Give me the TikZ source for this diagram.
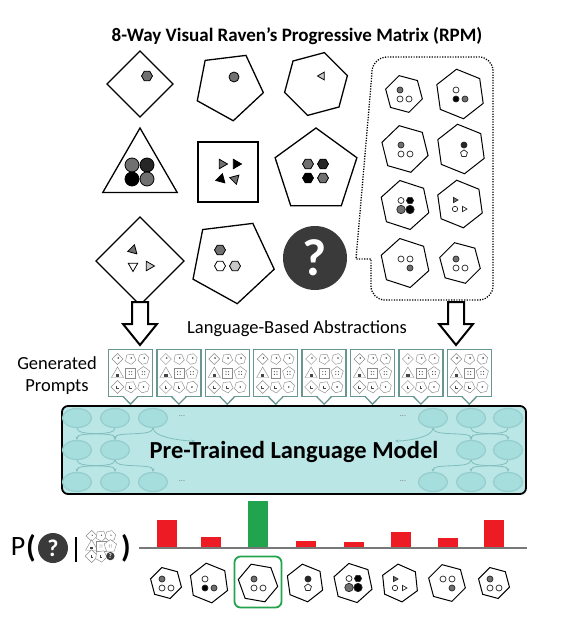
\documentclass[tikz,border=0pt]{standalone}
\usepackage{fontspec}
\setmainfont{Carlito}
\usetikzlibrary{shapes.geometric,arrows.meta,positioning}

\definecolor{panelgrey}{RGB}{112,112,112}
\definecolor{lightpiece}{RGB}{200,200,200}
\definecolor{darkdot}{RGB}{38,38,38}
\definecolor{qdark}{RGB}{58,58,58}
\definecolor{promptc}{RGB}{104,150,145}
\definecolor{lmfill}{RGB}{187,230,230}
\definecolor{neuronfill}{RGB}{166,221,221}
\definecolor{neuronline}{RGB}{150,206,206}
\definecolor{synapsec}{RGB}{128,190,190}
\definecolor{barred}{RGB}{237,28,36}
\definecolor{bargreen}{RGB}{34,163,77}
\definecolor{axisgrey}{RGB}{120,120,120}
\definecolor{minigrey}{RGB}{140,140,140}
\definecolor{minidark}{RGB}{70,70,70}

% contents of the eight answer candidates
\newcommand\candfill[1]{%
  \ifcase#1\or
    \filldraw[dot, fill=panelgrey] (-4,-4) circle[radius=3];
    \filldraw[dot, fill=white] (-4,5) circle[radius=3];
    \filldraw[dot, fill=white] (5,5) circle[radius=3];
  \or
    \filldraw[dot, fill=white] (-4,-4) circle[radius=3];
    \filldraw[dot, fill=black] (-4,5) circle[radius=3];
    \filldraw[dot, fill=panelgrey] (5,5) circle[radius=3];
  \or
    \filldraw[dot, fill=panelgrey] (-4,-4) circle[radius=3];
    \filldraw[dot, fill=white] (-4,5) circle[radius=3];
    \filldraw[dot, fill=white] (5,5) circle[radius=3];
  \or
    \filldraw[dot, fill=darkdot] (3,-4) circle[radius=3];
    \pic[dot, fill=white] at (3,4.5) {ngon={5}{3.6}{0}};
  \or
    \filldraw[dot, fill=white] (-4,-4.5) circle[radius=3];
    \pic[dot, fill=black] at (5,-4.5) {ngon={6}{3.6}{30}};
    \filldraw[dot, fill=panelgrey] (-4,4.5) circle[radius=4.2];
    \filldraw[dot, fill=black] (5,4.5) circle[radius=4.2];
  \or
    \pic[dot, fill=panelgrey] at (-5,-4) {ngon={3}{3}{-90}};
    \filldraw[dot, fill=white] (-5,5) circle[radius=2.7];
    \pic[dot, fill=white] at (4,5) {ngon={3}{3}{-90}};
  \or
    \filldraw[dot, fill=white] (-4,-4) circle[radius=3];
    \filldraw[dot, fill=white] (5,-4) circle[radius=3];
    \filldraw[dot, fill=panelgrey] (5,5) circle[radius=3];
  \or
    \filldraw[dot, fill=panelgrey] (-4,-4) circle[radius=3];
    \filldraw[dot, fill=white] (-4,5) circle[radius=3];
    \filldraw[dot, fill=white] (5,5) circle[radius=3];
  \fi}

% last cell of a small matrix
\newcommand\minilast[1]{%
  \ifnum#1=0
    \fill[qdark] (13,14) circle[radius=5.8];
    \node[text=white, font=\fontsize{7}{7}\selectfont\bfseries] (qmini) at (13,14) {?};
  \else
    \pic[mini] at (13,14) {ngon={6}{6}{-15}};
    \fill[minidark] (13,14) circle[radius=0.9];
  \fi}

\tikzset{
  panel/.style={draw, line width=1.3pt, inner sep=0pt, fill=white},
  piece/.style={draw=black, line width=0.8pt},
  dot/.style={draw=darkdot, line width=0.7pt},
  mini/.style={draw=minigrey, line width=0.45pt, fill=white},
  prompt/.style={draw=promptc, line width=1.3pt, fill=white, minimum width=44pt, minimum height=47pt},
  lmbox/.style={draw, line width=1.8pt, rounded corners=6pt, fill=lmfill, minimum width=464pt, minimum height=88pt},
  neuron/.style={ellipse, draw=neuronline, line width=1.3pt, fill=neuronfill, minimum width=29pt, minimum height=19pt},
  synapse/.style={draw=synapsec, line width=0.8pt, -{Stealth[length=3.5pt, width=3pt]}},
  bar/.style={minimum width=20pt},
  axisline/.style={draw=axisgrey, line width=2pt},
  qmark/.style={circle, fill=qdark, text=white},
  callout/.style={draw, line width=1.3pt, dash pattern=on 1.2pt off 1.4pt},
  bigtext/.style={font=\fontsize{18.5}{22}\selectfont, align=center},
  pics/ngon/.style n args={3}{code={
    \pgfmathtruncatemacro\ngonlast{#1-1}
    \draw[pic actions, yscale=-1, rotate={-(#3)}] (90:#2)
      \foreach \k in {1,...,\ngonlast}{ -- ({90+360/#1*\k}:#2) } -- cycle;
  }},
  pics/cand/.style n args={3}{code={
    \pic[draw, line width=1pt, fill=white] {ngon={6}{#2}{#3}};
    \candfill{#1}
  }},
  pics/minigrid/.style={code={
    \pic[mini] at (-13,-14) {ngon={4}{5.5}{0}};
    \pic[mini] at (0,-14) {ngon={5}{5.5}{-29}};
    \pic[mini] at (13,-14) {ngon={6}{5.5}{-15}};
    \pic[mini] at (-13,1) {ngon={3}{7}{0}};
    \pic[mini] at (0,0) {ngon={4}{7}{45}};
    \pic[mini] at (13,0) {ngon={5}{6.5}{0}};
    \pic[mini] at (-13,14) {ngon={4}{6.5}{0}};
    \pic[mini] at (0,14) {ngon={5}{6}{-29}};
    \foreach \x in {-13,0,13} \fill[minidark] (\x+0.8,-15) circle[radius=0.9];
    \fill[minidark] (-14.6,1) rectangle (-11.4,4);
    \foreach \x in {0,13}
      \foreach \dx/\dy in {-1.3/-1.3,1.3/-1.3,-1.3/1.3,1.3/1.3}
        \fill[minidark] (\x+\dx,\dy) circle[radius=0.6];
    \foreach \x in {-13,0}
      \draw[minidark, line width=0.5pt] (\x-1,12.5) -- (\x-1,15.5) -- (\x+1.5,15.5);
    \minilast{#1}
  }},
  pics/bigdown/.style={code={
    \draw[line width=2pt, fill=white, line join=miter]
      (-8,0) -- (8,0) -- (8,22) -- (17,22) -- (0,43) -- (-17,22) -- (-8,22) -- cycle;
  }}
}

\begin{document}
\begin{tikzpicture}[x=1pt, y=-1pt, every node/.style={inner sep=0pt}]
\useasboundingbox (0,0) rectangle (560,618);

\node[font=\fontsize{19}{22}\selectfont\bfseries] (title) at (297,36)
  {8-Way Visual Raven’s Progressive Matrix (RPM)};

% 3x3 matrix
\node[panel, regular polygon, regular polygon sides=4, shape border rotate=45, minimum size=66pt] (p11) at (140,84) {};
\node[panel, regular polygon, regular polygon sides=5, shape border rotate=-29, minimum size=70pt] (p12) at (229,86) {};
\node[panel, regular polygon, regular polygon sides=6, shape border rotate=15, minimum size=65pt] (p13) at (316,84) {};
\node[panel, regular polygon, regular polygon sides=3, minimum size=86pt] (p21) at (140,171) {};
\node[panel, minimum size=60pt] (p22) at (228,172) {};
\node[panel, regular polygon, regular polygon sides=5, minimum size=86pt] (p23) at (316,171) {};
\node[panel, regular polygon, regular polygon sides=4, shape border rotate=45, minimum size=88pt] (p31) at (140,261) {};
\node[panel, regular polygon, regular polygon sides=5, shape border rotate=-29, minimum size=86pt] (p32) at (232,261) {};
\node[qmark, minimum size=64pt, font=\fontsize{52}{52}\selectfont\bfseries] (p33) at (315,258) {?};

\pic[piece, fill=panelgrey] at (147,76) {ngon={6}{5.5}{30}};
\filldraw[piece, fill=panelgrey] (234,77) circle[radius=5];
\pic[piece, fill=lightpiece] at (322,76) {ngon={3}{4.5}{90}};
\foreach \x/\y/\c in {132/165/panelgrey, 147/165/darkdot, 132/179/black, 147/179/panelgrey}
  \filldraw[piece, fill=\c] (\x,\y) circle[radius=7];
\foreach \x/\y/\a/\c in {222/164/-90/panelgrey, 236/164/-90/black, 221/179/-15/black, 235/179/195/panelgrey}
  \pic[piece, fill=\c] at (\x,\y) {ngon={3}{5.5}{\a}};
\foreach \x/\y/\c in {308/164/panelgrey, 323/164/darkdot, 308/178/black, 323/178/panelgrey}
  \pic[piece, fill=\c] at (\x,\y) {ngon={6}{5.5}{30}};
\foreach \x/\y/\a/\c in {133/250/-15/panelgrey, 133/266/180/white, 149/266/-90/lightpiece}
  \pic[piece, fill=\c] at (\x,\y) {ngon={3}{5.5}{\a}};
\foreach \x/\y/\c in {220/250/panelgrey, 220/266/white, 235/266/lightpiece}
  \pic[piece, fill=\c] at (\x,\y) {ngon={6}{5.5}{30}};

% answer set
\draw[callout, rounded corners=14pt] (371,270) -- (371,300) -- (493,300) -- (493,57)
  -- (373,57) -- (371,85) [sharp corners] -- (356,259) -- (371,259) -- cycle;
\foreach \i/\x/\y/\r/\a in {1/404/94/19/15, 2/460/94/25/8, 3/405/149/24/14, 4/461/149/25/8,
    5/405/205/25/12, 6/460/204/24/8, 7/405/263/25/12, 8/460/263/21/15}
  \pic at (\x,\y) {cand={\i}{\r}{\a}};

% abstraction step
\coordinate (arrL) at (140,302);
\coordinate (arrR) at (456,302);
\pic at (arrL) {bigdown};
\pic at (arrR) {bigdown};
\node[bigtext] (lba) at (297,329) {Language-Based Abstractions};
\node[bigtext] (gp) at (57,376) {Generated\\Prompts};

\foreach \i in {1,...,8} {
  \node[prompt] (pr\i) at ({82.1+48.4*\i},373) {};
  \fill[white] ([xshift=-7pt, yshift=1.5pt]pr\i.south) -- ([yshift=-7pt]pr\i.south)
    -- ([xshift=7pt, yshift=1.5pt]pr\i.south) -- cycle;
  \draw[promptc, line width=1.3pt] ([xshift=-7.5pt, yshift=0.65pt]pr\i.south)
    -- ([yshift=-7pt]pr\i.south) -- ([xshift=7.5pt, yshift=0.65pt]pr\i.south);
  \pic at (pr\i) {minigrid=\i};
}

% language model
\node[lmbox] (lm) at (294,450) {};
\foreach \c/\x in {1/77,2/115,3/153,4/433,5/471,6/508} {
  \node[neuron] (n1\c) at (\x,418) {};
  \node[neuron] (n3\c) at (\x,482) {};
}
\foreach \c/\x in {1/77,2/115,5/471,6/508}
  \node[neuron] (n2\c) at (\x,450) {};
\coordinate (s1) at (195,441);
\coordinate (s2) at (395,441);
\foreach \a/\b in {n11/n22, n12/n21, n13/n22, n21/n32, n22/n31, n22/n33,
    n15/n26, n16/n25, n14/n25, n25/n34, n25/n36, n26/n35}
  \draw[synapse] (\a.south) .. controls +(0,9) and +(0,-9) .. (\b.north);
\draw[synapse] (n13.south) .. controls +(0,9) and +(-12,0) .. (s1);
\draw[synapse] (n14.south) .. controls +(0,9) and +(12,0) .. (s2);
\foreach \n/\x/\y in {d1/182/416, d3/182/481, d4/403/416, d6/403/481}
  \node[text=axisgrey, font=\fontsize{8}{8}\selectfont] (\n) at (\x,\y) {...};
\node[font=\fontsize{24.5}{28}\selectfont\bfseries] (lmlabel) at (294,452) {Pre-Trained Language Model};

% answer probabilities
\foreach \i/\x/\h/\c in {1/167/28/barred, 2/211/11/barred, 3/258/47/bargreen, 4/306/7/barred,
    5/354/6/barred, 6/401/16/barred, 7/448/10/barred, 8/494/28/barred}
  \node[bar, fill=\c, minimum height=\h pt, anchor=south] (bar\i) at (\x,548) {};
\coordinate (axl) at (139,548);
\coordinate (axr) at (527,548);
\draw[axisline] (axl) -- (axr);

\node[draw=bargreen, line width=1.8pt, rounded corners=6pt, minimum width=47pt, minimum height=51pt] (best) at (258,582) {};
\foreach \i/\x/\r/\a in {1/166/16/15, 2/209/20/8, 3/258/20/20, 4/305/19/8,
    5/353/20/12, 6/400/19/6, 7/447/19/15, 8/494/16/15}
  \pic at (\x,583) {cand={\i}{\r}{\a}};

\node[font=\fontsize{28}{30}\selectfont] (pP) at (18,547) {P};
\node[font=\fontsize{31}{34}\selectfont\bfseries] (lpar) at (31,548) {(};
\node[qmark, minimum size=30pt, font=\fontsize{24}{24}\selectfont\bfseries] (pq) at (53,548) {?};
\node[fill=black, minimum width=2.4pt, minimum height=25pt] (pbar) at (76,549) {};
\coordinate (ctx) at (101,546);
\pic[scale=0.72] at (ctx) {minigrid=0};
\node[font=\fontsize{31}{34}\selectfont\bfseries] (rpar) at (126,548) {)};
\end{tikzpicture}
\end{document}
